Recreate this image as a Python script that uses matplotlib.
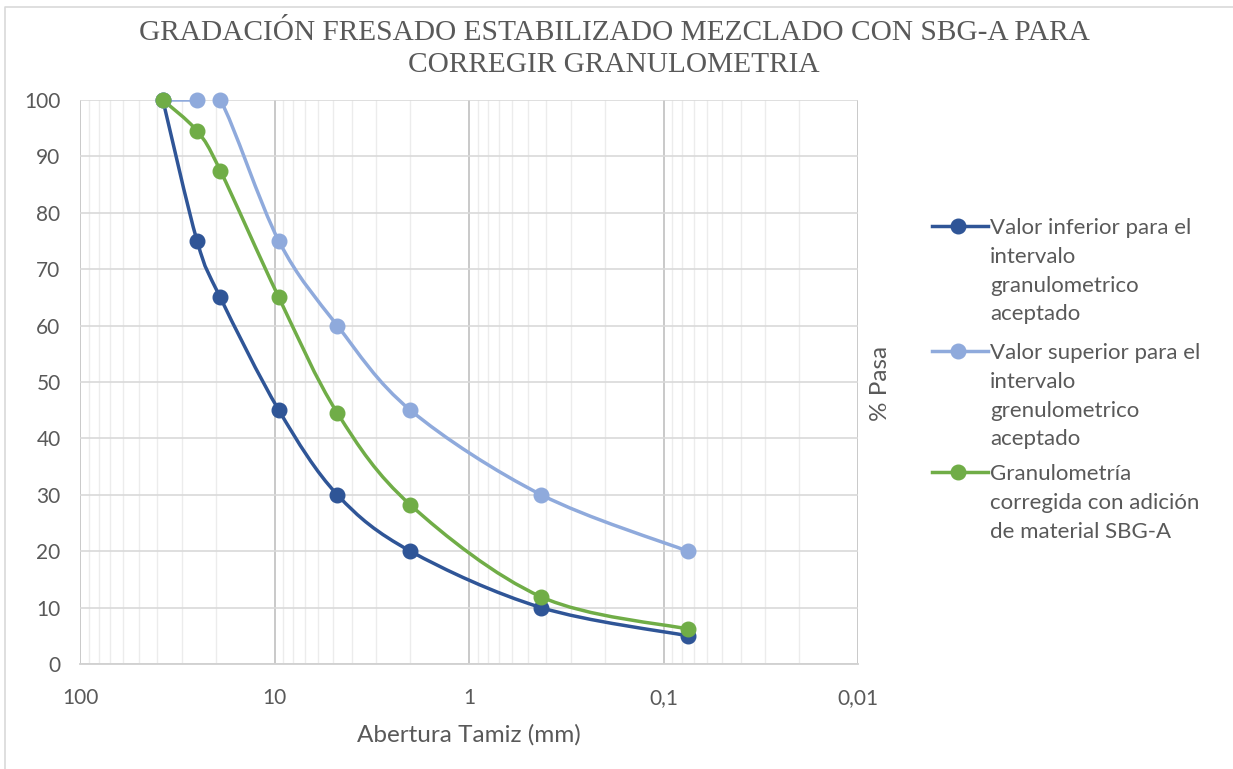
import matplotlib
matplotlib.use("Agg")
import matplotlib.pyplot as plt
import numpy as np
from matplotlib.lines import Line2D
from matplotlib.patches import PathPatch
from matplotlib.path import Path
from matplotlib.ticker import FixedLocator, NullFormatter

# data
tamiz = [37.5, 25, 19, 9.5, 4.75, 2.0, 0.425, 0.075]
inferior = [100, 75, 65, 45, 30, 20, 10, 5]
superior = [100, 100, 100, 75, 60, 45, 30, 20]
corregida = [100, 94.5, 87.5, 65, 44.5, 28.2, 11.9, 6.2]

series_names = [
    "Valor inferior para el\nintervalo\ngranulometrico\naceptado",
    "Valor superior para el\nintervalo\ngrenulometrico\naceptado",
    "Granulometría\ncorregida con adición\nde material SBG-A",
]
colors = ["#2F5597", "#8FAADC", "#70AD47"]

x_ticks = [100, 10, 1, 0.1, 0.01]
x_labels = ["100", "10", "1", "0,1", "0,01"]
y_ticks = list(range(0, 101, 10))

text_col = "#595959"
sans = ["Lato", "DejaVu Sans"]


def smooth_path(xs, ys):
    # Excel style smoothed line: Catmull-Rom bezier in (log x, y) space
    u = np.log10(np.asarray(xs, float))
    v = np.asarray(ys, float)
    pts = np.column_stack([u, v])
    n = len(pts)
    verts = [pts[0]]
    codes = [Path.MOVETO]
    for i in range(n - 1):
        p0 = pts[max(i - 1, 0)]
        p1 = pts[i]
        p2 = pts[i + 1]
        p3 = pts[min(i + 2, n - 1)]
        c1 = p1 + (p2 - p0) / 6.0
        c2 = p2 - (p3 - p1) / 6.0
        verts += [c1, c2, p2]
        codes += [Path.CURVE4] * 3
    verts = np.array(verts)
    verts[:, 0] = 10 ** verts[:, 0]
    return Path(verts, codes)


fig = plt.figure(figsize=(12.33, 7.69), dpi=100)
ax = fig.add_axes([80 / 1233, 105 / 769, 778 / 1233, 564 / 769])

ax.set_xscale("log")
ax.set_xlim(100, 0.01)
ax.set_ylim(0, 100)

for ys, c in zip([inferior, superior, corregida], colors):
    patch = PathPatch(smooth_path(tamiz, ys), facecolor="none", edgecolor=c,
                      linewidth=2.5, capstyle="round", joinstyle="round", zorder=3)
    ax.add_patch(patch)
    ax.plot(tamiz, ys, linestyle="none", marker="o", markersize=10.5,
            color=c, zorder=4, clip_on=False)

# grid
ax.xaxis.set_major_locator(FixedLocator(x_ticks))
ax.set_xticklabels(x_labels)
ax.xaxis.set_minor_locator(FixedLocator(
    [m * 10.0 ** e for e in range(-2, 2) for m in range(2, 10)]))
ax.xaxis.set_minor_formatter(NullFormatter())
ax.set_yticks(y_ticks)
ax.grid(axis="x", which="major", color="#c0c0c0", linewidth=1.2)
ax.grid(axis="x", which="minor", color="#ececec", linewidth=1.0)
ax.grid(axis="y", which="major", color="#d9d9d9", linewidth=1.2)
ax.set_axisbelow(True)

for s in ["top", "left", "right"]:
    ax.spines[s].set_visible(False)
ax.spines["bottom"].set_color("#d0d0d0")
ax.spines["bottom"].set_linewidth(1.3)

ax.tick_params(axis="both", which="both", length=0, labelcolor=text_col, labelsize=15)
ax.tick_params(axis="x", pad=17)
ax.tick_params(axis="y", pad=14)
for lbl in ax.get_xticklabels() + ax.get_yticklabels():
    lbl.set_family(sans)

ax.set_xlabel("Abertura Tamiz (mm)", fontsize=17.5, color=text_col, family=sans, labelpad=12)

fig.text(880 / 1233, 1 - 383 / 769, "% Pasa", rotation=90, ha="center", va="center",
         fontsize=17.5, color=text_col, family=sans)

fig.text(614 / 1233, 1 - 49 / 769,
         "GRADACIÓN FRESADO ESTABILIZADO MEZCLADO CON SBG-A PARA\nCORREGIR GRANULOMETRIA",
         ha="center", va="center", fontsize=21.2, color=text_col,
         family=["Liberation Serif", "DejaVu Serif"], linespacing=1.28)

# legend drawn by hand so the handle sits on the first line
legend_y = [226, 351, 472]
for name, c, y in zip(series_names, colors, legend_y):
    fy = 1 - y / 769
    fig.add_artist(Line2D([932 / 1233, 988 / 1233], [fy, fy], color=c, linewidth=2.5,
                          transform=fig.transFigure))
    fig.add_artist(Line2D([958 / 1233], [fy], color=c, marker="o", markersize=10.5,
                          transform=fig.transFigure))
    fig.text(990 / 1233, fy + 8 / 769, name, ha="left", va="top", fontsize=16,
             color=text_col, family=sans, linespacing=1.55)

# chart area border (top and left edges visible)
fig.add_artist(Line2D([5 / 1233, 5 / 1233, 1.0], [0.0, 1 - 7 / 769, 1 - 7 / 769],
                      color="#d9d9d9", linewidth=1.2, transform=fig.transFigure))

fig.savefig("out.png", dpi=100)
